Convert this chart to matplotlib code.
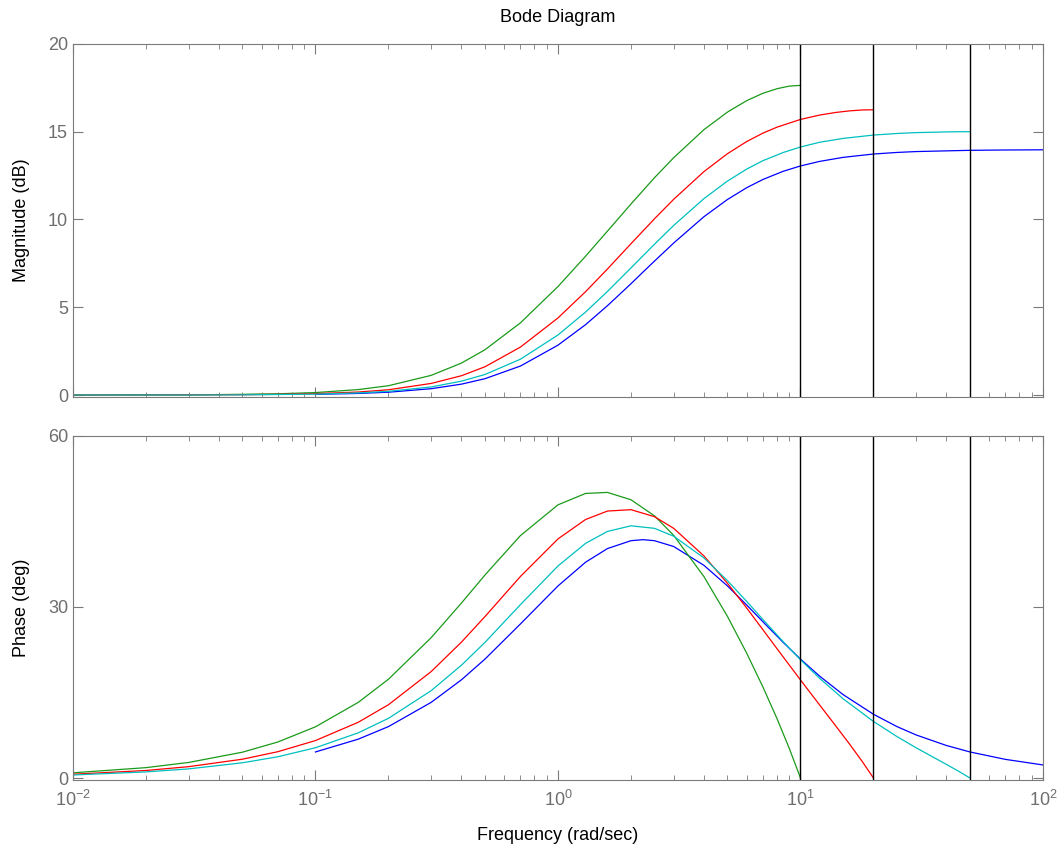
import matplotlib
matplotlib.use("Agg")
import matplotlib.pyplot as plt

plt.rcParams['font.family'] = ['Liberation Sans', 'DejaVu Sans']
plt.rcParams['mathtext.fontset'] = 'custom'
plt.rcParams['mathtext.rm'] = 'Liberation Sans'
plt.rcParams['axes.unicode_minus'] = False

# continuous lead (blue)
w_blue = [0.1, 0.15, 0.2, 0.3, 0.4, 0.5, 0.7, 1.0, 1.3, 1.6, 2.0, 2.24, 2.5, 3.0, 4.0,
          5.0, 6.0, 7.0, 8.5, 10, 12, 15, 20, 25, 30, 40, 50, 70, 100]
mag_blue = [0.04, 0.09, 0.16, 0.36, 0.62, 0.93, 1.65, 2.84, 4.01, 5.09, 6.34, 7.00, 7.63, 8.66, 10.16,
            11.14, 11.81, 12.28, 12.75, 13.05, 13.31, 13.54, 13.73, 13.82, 13.87, 13.91, 13.94, 13.96, 13.97]
ph_blue = [4.57, 6.81, 9.02, 13.27, 17.23, 20.86, 27.02, 33.69, 37.86, 40.25, 41.63, 41.81, 41.63, 40.61, 37.30,
           33.69, 30.35, 27.41, 23.76, 20.86, 17.86, 14.62, 11.18, 9.02, 7.55, 5.70, 4.57, 3.27, 2.29]

# discrete, Nyquist 10 rad/s (green)
w_green = [0.01, 0.02, 0.03, 0.05, 0.07, 0.1, 0.15, 0.2, 0.3, 0.4, 0.5, 0.7, 1.0, 1.3, 1.6,
           2.0, 2.5, 3.0, 4.0, 5.0, 6.0, 7.0, 8.0, 9.0, 10.0]
mag_green = [0.00, 0.01, 0.01, 0.04, 0.07, 0.14, 0.31, 0.53, 1.12, 1.82, 2.58, 4.11, 6.18, 7.91, 9.34,
             10.88, 12.38, 13.52, 15.12, 16.12, 16.77, 17.19, 17.45, 17.60, 17.64]
ph_green = [0.91, 1.82, 2.73, 4.53, 6.32, 8.98, 13.26, 17.33, 24.62, 30.70, 35.61, 42.52, 47.92, 49.92, 50.10,
            48.81, 45.99, 42.57, 35.32, 28.34, 21.90, 15.97, 10.43, 5.15, 0.00]

# discrete, Nyquist 20 rad/s (red)
w_red = [0.01, 0.02, 0.03, 0.05, 0.07, 0.1, 0.15, 0.2, 0.3, 0.4, 0.5, 0.7, 1.0, 1.3, 1.6,
         2.0, 2.5, 3.0, 4.0, 5.0, 6.0, 7.0, 8.0, 10, 12, 14, 16, 18, 20]
mag_red = [0.00, 0.00, 0.01, 0.02, 0.04, 0.08, 0.17, 0.30, 0.66, 1.10, 1.61, 2.73, 4.39, 5.89, 7.18,
           8.62, 10.04, 11.15, 12.73, 13.75, 14.44, 14.92, 15.26, 15.70, 15.95, 16.10, 16.19, 16.24, 16.25]
ph_red = [0.66, 1.32, 1.99, 3.30, 4.62, 6.57, 9.77, 12.86, 18.67, 23.84, 28.32, 35.35, 41.94, 45.35, 46.83,
          47.07, 45.84, 43.80, 38.95, 34.15, 29.82, 26.01, 22.69, 17.20, 12.80, 9.10, 5.85, 2.86, 0.00]

# discrete, Nyquist 50 rad/s (cyan)
w_cyan = [0.01, 0.02, 0.03, 0.05, 0.07, 0.1, 0.15, 0.2, 0.3, 0.4, 0.5, 0.7, 1.0, 1.3, 1.6,
          2.0, 2.5, 3.0, 4.0, 5.0, 6.0, 7.0, 8.5, 10, 12, 15, 20, 25, 30, 35, 40, 45, 50]
mag_cyan = [0.00, 0.00, 0.00, 0.01, 0.03, 0.05, 0.12, 0.21, 0.46, 0.79, 1.17, 2.04, 3.42, 4.73, 5.90,
            7.24, 8.59, 9.66, 11.19, 12.19, 12.87, 13.35, 13.82, 14.13, 14.40, 14.62, 14.81, 14.90, 14.95,
            14.97, 14.99, 15.00, 15.00]
ph_cyan = [0.53, 1.07, 1.60, 2.67, 3.73, 5.31, 7.92, 10.47, 15.32, 19.79, 23.79, 30.41, 37.19, 41.17, 43.26,
           44.24, 43.80, 42.42, 38.60, 34.61, 30.98, 27.81, 23.88, 20.74, 17.48, 13.89, 9.92, 7.27, 5.30,
           3.73, 2.38, 1.16, 0.00]

nyquist = [10, 20, 50]

frame = '#7a7a7a'
fs = 13

fig = plt.figure(figsize=(10.62, 8.52), dpi=100)
ax1 = fig.add_axes([0.0687, 0.5343, 0.9134, 0.4141])
ax2 = fig.add_axes([0.0687, 0.0845, 0.9134, 0.4038])

series = [(w_blue, mag_blue, ph_blue, '#0000ff'),
          (w_green, mag_green, ph_green, '#1a9a1a'),
          (w_red, mag_red, ph_red, '#ff0000'),
          (w_cyan, mag_cyan, ph_cyan, '#00bfbf')]

for w, m, ph, col in series:
    ax1.plot(w, m, color=col, lw=0.9)
    ax2.plot(w, ph, color=col, lw=0.9)

for ax in (ax1, ax2):
    for wn in nyquist:
        ax.axvline(wn, color='black', lw=1.0)
    ax.set_xscale('log')
    ax.set_xlim(1e-2, 1e2)
    ax.tick_params(which='both', direction='in', top=True, right=True,
                   color=frame, labelcolor='#6e6e6e', labelsize=fs)
    ax.tick_params(which='major', length=7)
    ax.tick_params(which='minor', length=3.5)
    for sp in ax.spines.values():
        sp.set_color(frame)

ax1.set_ylim(-0.1, 20)
ax1.set_yticks([0, 5, 10, 15, 20])
ax1.tick_params(labelbottom=False)

ax2.set_ylim(-0.35, 60)
ax2.set_yticks([0, 30, 60])
ax2.tick_params(axis='x', pad=7)

fig.text(0.5254, 0.980, 'Bode Diagram', ha='center', va='center', fontsize=fs)
fig.text(0.5254, 0.019, 'Frequency (rad/sec)', ha='center', va='center', fontsize=fs)
fig.text(0.020, 0.7414, 'Magnitude (dB)', ha='center', va='center', rotation=90, fontsize=fs)
fig.text(0.020, 0.2864, 'Phase (deg)', ha='center', va='center', rotation=90, fontsize=fs)

fig.savefig('out.png', dpi=100)
